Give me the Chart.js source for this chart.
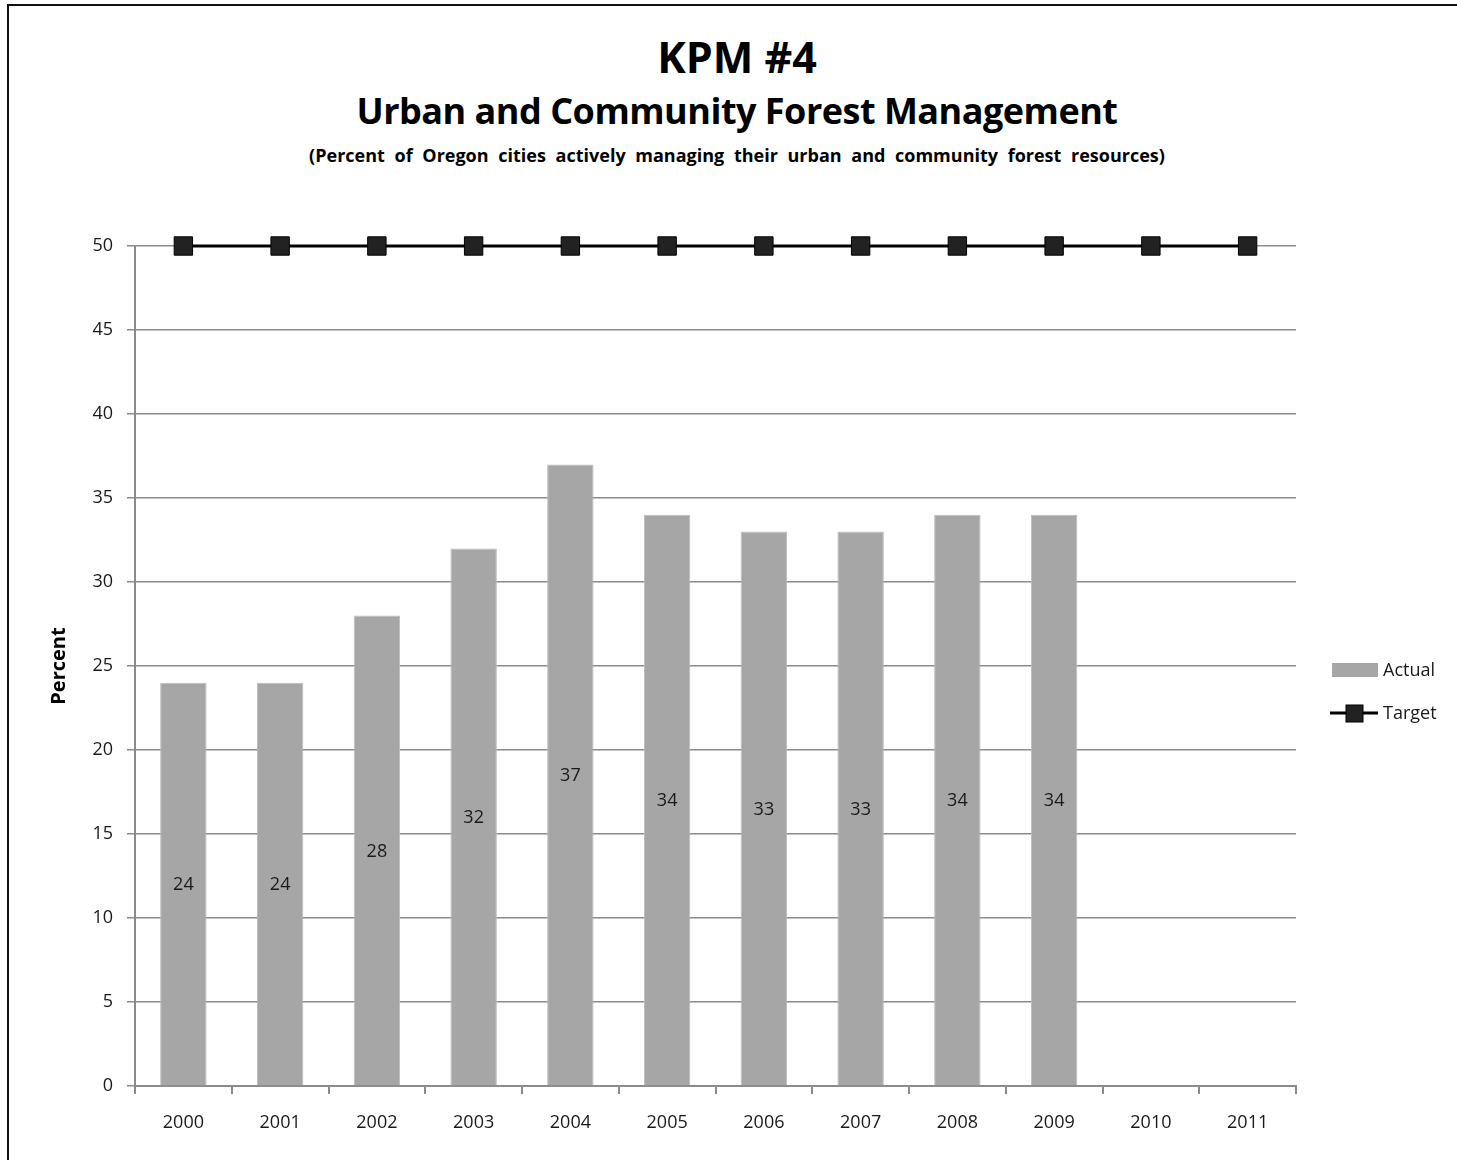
<!DOCTYPE html>
<html>
<head>
<meta charset="utf-8">
<title>KPM #4</title>
<script src="https://cdn.jsdelivr.net/npm/chart.js@4.4.1/dist/chart.umd.min.js"></script>
<style>
    html, body { margin: 0; padding: 0; background: #fff; overflow: hidden; }
    body { width: 1457px; height: 1160px; position: relative; font-family: "Open Sans", "Noto Sans", sans-serif; }
    .frame { position: absolute; left: 7px; top: 4px; width: 1520px; height: 1220px; border: 2px solid #111; box-sizing: border-box; }
    .head { position: absolute; left: 0; width: 1474px; text-align: center; font-weight: bold; color: #000; white-space: nowrap; }
    #t1 { top: 27px; font-size: 43px; }
    #t2 { top: 86px; font-size: 36px; letter-spacing: -0.5px; }
    #t3 { top: 143px; font-size: 18px; word-spacing: 5px; }
    #chartWrap { position: absolute; left: 0; top: 0; width: 1457px; height: 1160px; }
</style>
</head>
<body>
<div class="frame"></div>
<div class="head" id="t1">KPM #4</div>
<div class="head" id="t2">Urban and Community Forest Management</div>
<div class="head" id="t3">(Percent of Oregon cities actively managing their urban and community forest resources)</div>
<div id="chartWrap"><canvas id="kpmChart" width="1457" height="1160"></canvas></div>

<script>
const years = ["2000", "2001", "2002", "2003", "2004", "2005", "2006", "2007", "2008", "2009", "2010", "2011"];
const actual = [24, 24, 28, 32, 37, 34, 33, 33, 34, 34, null, null];
const target = [50, 50, 50, 50, 50, 50, 50, 50, 50, 50, 50, 50];
const yTicks = [0, 5, 10, 15, 20, 25, 30, 35, 40, 45, 50];

const textColor = "#1a1a1a";
const gridColor = "#8c8c8c";
const barColor = "#a6a6a6";
const font = "'Open Sans', 'Noto Sans', sans-serif";

// value labels in the middle of each bar
const barLabels = {
    id: "barLabels",
    afterDatasetsDraw(chart) {
        const ctx = chart.ctx;
        const meta = chart.getDatasetMeta(1);
        ctx.save();
        ctx.font = "18px " + font;
        ctx.fillStyle = textColor;
        ctx.textAlign = "center";
        ctx.textBaseline = "middle";
        meta.data.forEach((bar, i) => {
            const v = actual[i];
            if (v === null) return;
            ctx.fillText(String(v), bar.x, (bar.y + bar.base) / 2 + 1);
        });
        ctx.restore();
    }
};

// legend on the right, beside the plot
const sideLegend = {
    id: "sideLegend",
    afterDraw(chart) {
        const ctx = chart.ctx;
        const x = chart.chartArea.right + 35;
        const y1 = 670, y2 = 713;
        ctx.save();
        ctx.fillStyle = barColor;
        ctx.fillRect(x + 1, y1 - 7, 46, 14);

        ctx.strokeStyle = "#000";
        ctx.lineWidth = 3;
        ctx.beginPath();
        ctx.moveTo(x - 1, y2);
        ctx.lineTo(x + 47, y2);
        ctx.stroke();
        ctx.fillStyle = "#222";
        ctx.lineWidth = 1;
        ctx.fillRect(x + 15, y2 - 8, 17, 17);
        ctx.strokeRect(x + 15, y2 - 8, 17, 17);

        ctx.font = "18px " + font;
        ctx.fillStyle = textColor;
        ctx.textAlign = "left";
        ctx.textBaseline = "middle";
        ctx.fillText("Actual", x + 52, y1 + 1);
        ctx.fillText("Target", x + 52, y2 + 1);
        ctx.restore();
    }
};

new Chart(document.getElementById("kpmChart"), {
    data: {
        labels: years,
        datasets: [
            {
                type: "line",
                label: "Target",
                data: target,
                borderColor: "#000",
                borderWidth: 3,
                pointStyle: "rect",
                pointRadius: 13,
                pointBackgroundColor: "#222",
                pointBorderColor: "#000",
                pointBorderWidth: 1,
                clip: false,
                order: 0
            },
            {
                type: "bar",
                label: "Actual",
                data: actual,
                backgroundColor: barColor,
                borderColor: "#bcbcbc",
                borderWidth: 1,
                categoryPercentage: 0.48,
                barPercentage: 1,
                order: 1
            }
        ]
    },
    options: {
        responsive: false,
        animation: false,
        layout: { padding: { left: 43, right: 161, top: 246, bottom: 0 } },
        plugins: {
            legend: { display: false },
            tooltip: { enabled: false }
        },
        scales: {
            x: {
                offset: true,
                grid: {
                    offset: true,
                    drawOnChartArea: false,
                    drawTicks: true,
                    tickLength: 8,
                    color: gridColor,
                    lineWidth: 2
                },
                border: { color: gridColor, width: 2 },
                ticks: { color: textColor, font: { family: font, size: 18 }, padding: 18, maxRotation: 0 },
                afterFit(scale) { scale.height = 74; }
            },
            y: {
                min: 0,
                max: 50,
                afterBuildTicks(scale) { scale.ticks = yTicks.map(v => ({ value: v })); },
                grid: { color: gridColor, lineWidth: 1.5, tickLength: 8 },
                border: { color: gridColor, width: 2 },
                ticks: { color: textColor, font: { family: font, size: 18 }, padding: 14 },
                title: {
                    display: true,
                    text: "Percent",
                    color: "#000",
                    font: { family: font, size: 20, weight: "bold" },
                    padding: { top: 4, bottom: 4 }
                },
                afterFit(scale) { scale.width = 92; }
            }
        }
    },
    plugins: [barLabels, sideLegend]
});
</script>
</body>
</html>
